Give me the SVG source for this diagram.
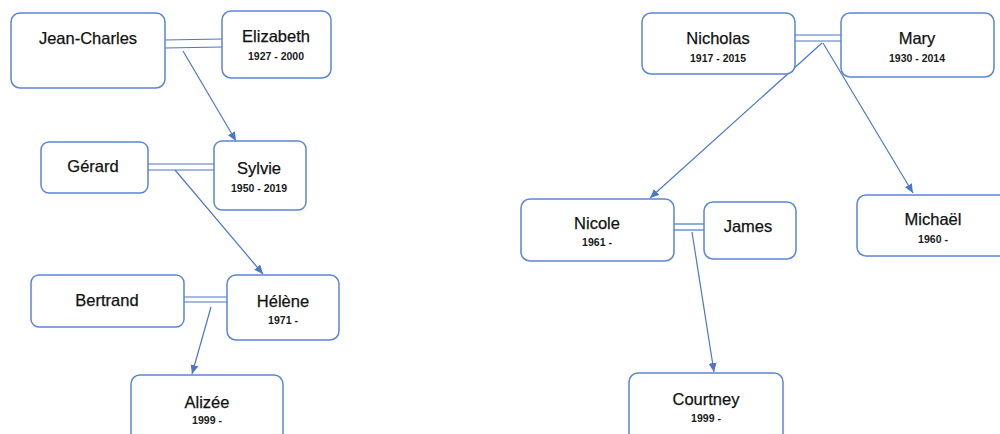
<svg xmlns="http://www.w3.org/2000/svg" width="1000" height="434" viewBox="0 0 1000 434">
<style>
.box{fill:#fff;stroke:#5b85d6;stroke-width:1.5}
.name{font-family:"Liberation Sans",Arial,sans-serif;font-size:16.5px;fill:#111;stroke:#111;stroke-width:0.25;text-anchor:middle}
.yr{font-family:"Liberation Sans",Arial,sans-serif;font-size:10.5px;font-weight:bold;fill:#1a1a1a;text-anchor:middle}
.ln{stroke:#4a76cc;stroke-width:1.2;fill:none}
.arr{stroke:#4a76cc;stroke-width:1.2;fill:none;marker-end:url(#ah)}
</style>
<defs>
<marker id="ah" markerUnits="userSpaceOnUse" markerWidth="10" markerHeight="10" refX="9" refY="4" orient="auto">
<path d="M0,0 L9,4 L0,8 Z" fill="#4a76cc"/>
</marker>
</defs>
<rect width="1000" height="434" fill="#fff"/>
<g id="connectors">
<line class="ln" x1="165" y1="40" x2="222" y2="39"/>
<line class="ln" x1="165" y1="48" x2="222" y2="47"/>
<line class="arr" x1="183" y1="51" x2="236" y2="141"/>
<line class="ln" x1="148" y1="164" x2="214" y2="164"/>
<line class="ln" x1="148" y1="170" x2="214" y2="170"/>
<line class="arr" x1="175" y1="170" x2="263" y2="274"/>
<line class="ln" x1="184" y1="297" x2="227" y2="297"/>
<line class="ln" x1="184" y1="302" x2="227" y2="302"/>
<line class="arr" x1="211" y1="307" x2="192" y2="374"/>
<line class="ln" x1="795" y1="35" x2="841" y2="35"/>
<line class="ln" x1="795" y1="41" x2="841" y2="41"/>
<line class="arr" x1="822" y1="43" x2="650" y2="198"/>
<line class="arr" x1="823" y1="43" x2="913" y2="193"/>
<line class="ln" x1="674" y1="224" x2="704" y2="224"/>
<line class="ln" x1="674" y1="230" x2="704" y2="230"/>
<line class="arr" x1="692" y1="232" x2="714" y2="372"/>
</g>
<g id="jean-charles"><rect class="box" x="11" y="13" width="154" height="75" rx="9"/><text class="name" x="88" y="44">Jean-Charles</text></g>
<g id="elizabeth"><rect class="box" x="222" y="11" width="109" height="67" rx="9"/><text class="name" x="276" y="42">Elizabeth</text><text class="yr" x="276" y="60">1927 - 2000</text></g>
<g id="gerard"><rect class="box" x="41" y="142" width="107" height="51" rx="8"/><text class="name" x="93" y="172">Gérard</text></g>
<g id="sylvie"><rect class="box" x="214" y="141" width="92" height="69" rx="8"/><text class="name" x="259" y="174">Sylvie</text><text class="yr" x="259" y="192">1950 - 2019</text></g>
<g id="bertrand"><rect class="box" x="31" y="275" width="153" height="52" rx="8"/><text class="name" x="107" y="306">Bertrand</text></g>
<g id="helene"><rect class="box" x="227" y="275" width="112" height="65" rx="9"/><text class="name" x="283" y="307">Hélène</text><text class="yr" x="283" y="324">1971 -</text></g>
<g id="alizee"><rect class="box" x="131" y="375" width="152" height="80" rx="9"/><text class="name" x="207" y="408">Alizée</text><text class="yr" x="207" y="424">1999 -</text></g>
<g id="nicholas"><rect class="box" x="642" y="13" width="153" height="61" rx="9"/><text class="name" x="718" y="44">Nicholas</text><text class="yr" x="718" y="62">1917 - 2015</text></g>
<g id="mary"><rect class="box" x="841" y="13" width="153" height="64" rx="9"/><text class="name" x="917" y="44">Mary</text><text class="yr" x="917" y="62">1930 - 2014</text></g>
<g id="nicole"><rect class="box" x="521" y="199" width="153" height="62" rx="9"/><text class="name" x="597" y="229">Nicole</text><text class="yr" x="597" y="246">1961 -</text></g>
<g id="james"><rect class="box" x="704" y="202" width="92" height="57" rx="9"/><text class="name" x="748" y="232">James</text></g>
<g id="michael"><rect class="box" x="857" y="195" width="160" height="61" rx="9"/><text class="name" x="933" y="225">Michaël</text><text class="yr" x="933" y="243">1960 -</text></g>
<g id="courtney"><rect class="box" x="629" y="373" width="154" height="80" rx="9"/><text class="name" x="706" y="405">Courtney</text><text class="yr" x="706" y="422">1999 -</text></g>
</svg>
